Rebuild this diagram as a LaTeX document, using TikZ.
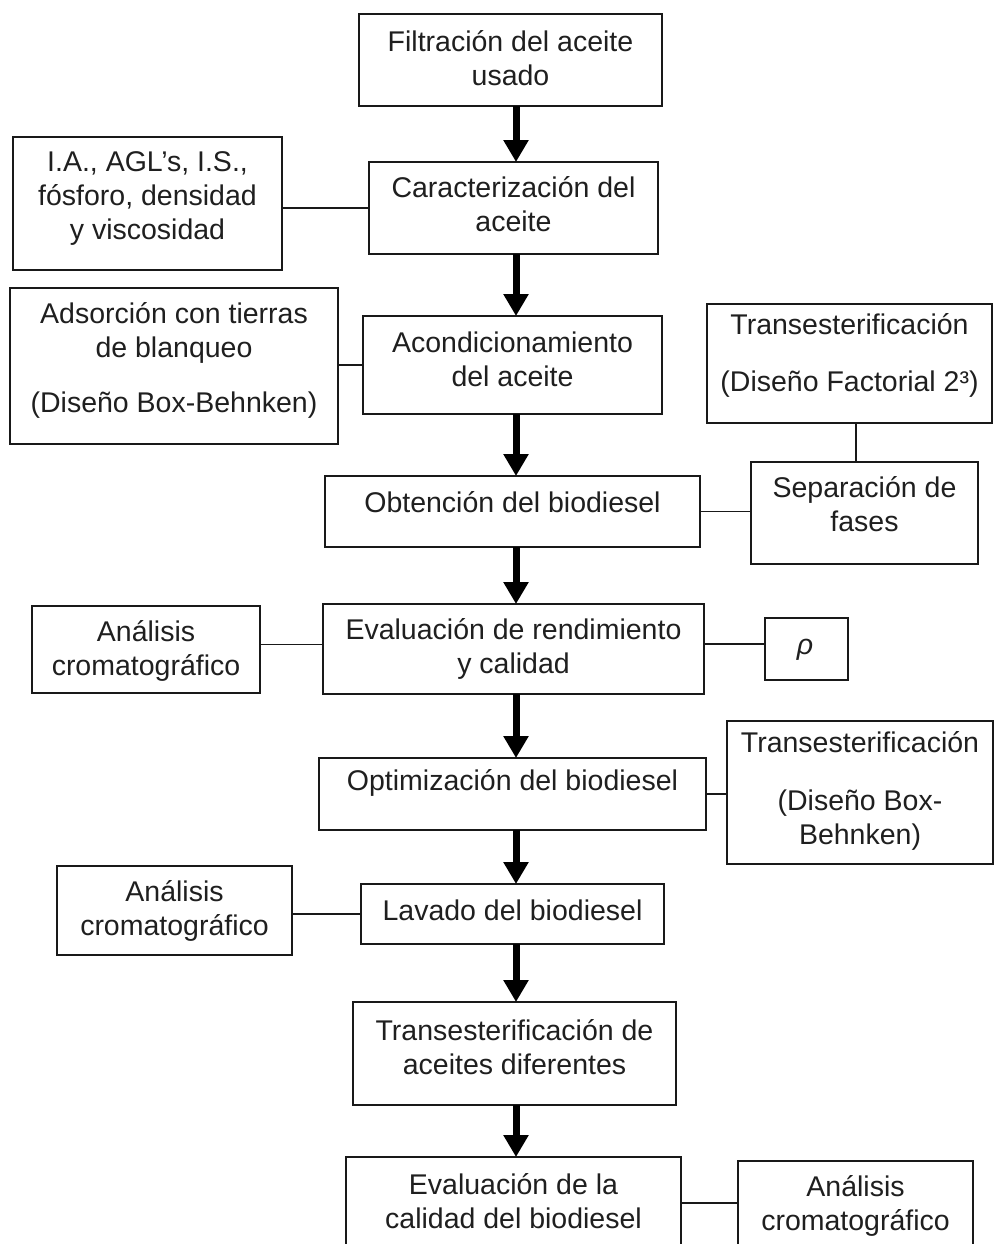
\documentclass[tikz,border=0pt]{standalone}
\usepackage{fontspec}
\setmainfont{Liberation Sans}
\usetikzlibrary{arrows.meta}
\begin{document}
\begin{tikzpicture}[x=1pt,y=-1pt,
  box/.style={draw=black!90, line width=1.6pt, inner sep=0pt, outer sep=0pt, rectangle},
  txt/.style={align=center, font=\fontsize{28.5}{34}\selectfont, text=black!88, inner sep=0pt},
  link/.style={draw=black!90, line width=1.4pt},
  flow/.style={draw=black, line width=7pt, -{Triangle[width=24pt,length=22pt]}}]
\useasboundingbox (0,0) rectangle (994,1244);
\clip (0,0) rectangle (994,1244);
\fill[white] (0,0) rectangle (994,1244);
\coordinate (ax) at (516,0);

% main column
\node[box, minimum width=303, minimum height=92] (f1) at (510.5,60) {};
\node[txt] (t1) at (510.5,58.5) {Filtración del aceite\\usado};
\node[box, minimum width=289, minimum height=92] (car) at (513.5,208) {};
\node[txt] (tcar) at (513.5,204) {Caracterización del\\aceite};
\node[box, minimum width=299, minimum height=98] (aco) at (512.5,365) {};
\node[txt] (taco) at (512.5,359.5) {Acondicionamiento\\del aceite};
\node[box, minimum width=375, minimum height=71] (obt) at (512.5,511.5) {};
\node[txt] (tobt) at (512.5,502) {Obtención del biodiesel};
\node[box, minimum width=381, minimum height=90] (ev) at (513.5,649) {};
\node[txt] (tev) at (513.5,649) {Evaluación de rendimiento\\y calidad};
\node[box, minimum width=387, minimum height=72] (opt) at (512.5,794) {};
\node[txt] (topt) at (512.5,783) {Optimización del biodiesel};
\node[box, minimum width=303, minimum height=60] (lav) at (512.5,914) {};
\node[txt] (tlav) at (512.5,910) {Lavado del biodiesel};
\node[box, minimum width=323, minimum height=103] (tad) at (514.5,1053.5) {};
\node[txt] (ttad) at (514.5,1047.5) {Transesterificación de\\aceites diferentes};
\node[box, minimum width=335, minimum height=92] (evc) at (513.5,1203) {};
\node[txt] (tevc) at (513.5,1201.5) {Evaluación de la\\calidad del biodiesel};

% side boxes
\node[box, minimum width=269, minimum height=133] (ia) at (147.5,203.5) {};
\node[txt] (tia) at (147.5,199) {I.A., AGL’s, I.S.,\\fósforo, densidad\\y viscosidad};
\node[box, minimum width=328, minimum height=156] (ads) at (174,366) {};
\node[txt] (tads) at (174,360.5) {Adsorción con tierras\\de blanqueo\\[21pt](Diseño Box-Behnken)};
\node[box, minimum width=285, minimum height=119] (tf) at (849.5,363.5) {};
\node[txt] (ttf) at (849.5,355.5) {Transesterificación\\[23pt](Diseño Factorial 2³)};
\node[box, minimum width=227, minimum height=102] (sep) at (864.5,513) {};
\node[txt] (tsep) at (864.5,504) {Separación de\\fases};
\node[box, minimum width=228, minimum height=87] (an1) at (146,649.5) {};
\node[txt] (tan1) at (146,650.5) {Análisis\\cromatográfico};
\node[box, minimum width=83, minimum height=62] (rho) at (806.5,649) {};
\node[txt] (trho) at (805,650) {\textit{ρ}};
\node[box, minimum width=266, minimum height=143] (tbb) at (860,792.5) {};
\node[txt] (ttbb) at (860,791) {Transesterificación\\[24pt](Diseño Box-\\Behnken)};
\node[box, minimum width=235, minimum height=89] (an2) at (174.5,910.5) {};
\node[txt] (tan2) at (174.5,910.5) {Análisis\\cromatográfico};
\node[box, minimum width=235, minimum height=88] (an3) at (855.5,1205) {};
\node[txt] (tan3) at (855.5,1205.5) {Análisis\\cromatográfico};

% flow arrows
\draw[flow] (f1.south -| ax) -- (car.north -| ax);
\draw[flow] (car.south -| ax) -- (aco.north -| ax);
\draw[flow] (aco.south -| ax) -- (obt.north -| ax);
\draw[flow] (obt.south -| ax) -- (ev.north -| ax);
\draw[flow] (ev.south -| ax) -- (opt.north -| ax);
\draw[flow] (opt.south -| ax) -- (lav.north -| ax);
\draw[flow] (lav.south -| ax) -- (tad.north -| ax);
\draw[flow] (tad.south -| ax) -- (evc.north -| ax);

% side links
\draw[link] (car.west -| ia.east) -- (car.west);
\draw[link] (aco.west -| ads.east) -- (aco.west);
\draw[link] ([xshift=6.5pt]tf.south) -- ([xshift=6.5pt]tf.south |- sep.north);
\draw[link] (obt.east) -- (obt.east -| sep.west);
\draw[link] ([yshift=5pt]an1.east) -- ([yshift=5pt]an1.east -| ev.west);
\draw[link] ([yshift=5pt]ev.east) -- ([yshift=5pt]ev.east -| rho.west);
\draw[link] (opt.east) -- (opt.east -| tbb.west);
\draw[link] (lav.west -| an2.east) -- (lav.west);
\draw[link] (evc.east) -- (evc.east -| an3.west);
\end{tikzpicture}
\end{document}
